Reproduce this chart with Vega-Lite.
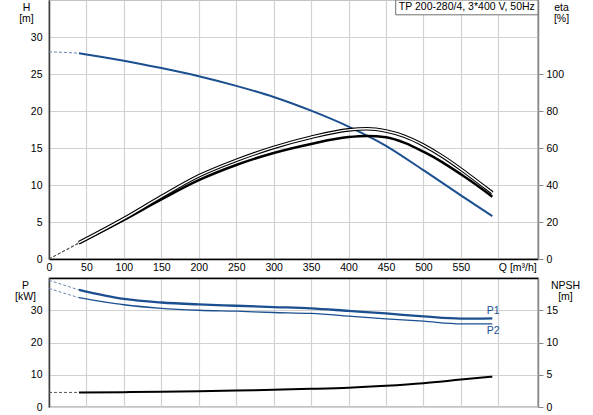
{
  "$schema": "https://vega.github.io/schema/vega-lite/v6.json",
  "padding": {"left": 13, "top": -2, "right": 5, "bottom": 0},
  "spacing": 2,
  "config": {
    "font": "Liberation Sans",
    "view": {"stroke": "#b0b0b0", "strokeWidth": 1.5},
    "axis": {
      "labelFontSize": 10.5, "labelColor": "#000", "titleFontSize": 10.5, "titleFontWeight": "normal", "titleColor": "#000",
      "gridColor": "#d2d2d2", "gridWidth": 1.2, "titleLineHeight": 11.5, "labelOverlap": false
    }
  },
  "datasets": {
    "head": [
      {"Q": 0, "H": 28.0, "part": "ext"}, {"Q": 20, "H": 27.92, "part": "ext"}, {"Q": 40, "H": 27.8, "part": "ext"},
      {"Q": 40, "H": 27.8, "part": "main"}, {"Q": 50, "H": 27.65, "part": "main"}, {"Q": 100, "H": 26.8, "part": "main"},
      {"Q": 150, "H": 25.8, "part": "main"}, {"Q": 200, "H": 24.7, "part": "main"}, {"Q": 250, "H": 23.4, "part": "main"},
      {"Q": 300, "H": 21.9, "part": "main"}, {"Q": 350, "H": 20.05, "part": "main"}, {"Q": 400, "H": 17.9, "part": "main"},
      {"Q": 450, "H": 15.3, "part": "main"}, {"Q": 500, "H": 12.0, "part": "main"}, {"Q": 550, "H": 8.6, "part": "main"},
      {"Q": 592, "H": 5.8, "part": "main"}
    ],
    "eta": [
      {"Q": 0, "eta": 0, "curve": "A", "part": "ext"}, {"Q": 40, "eta": 8.5, "curve": "A", "part": "ext"},
      {"Q": 40, "eta": 8.5, "curve": "A", "part": "main"}, {"Q": 100, "eta": 21.1, "curve": "A", "part": "main"},
      {"Q": 150, "eta": 32.2, "curve": "A", "part": "main"}, {"Q": 200, "eta": 42.6, "curve": "A", "part": "main"},
      {"Q": 250, "eta": 50.8, "curve": "A", "part": "main"}, {"Q": 300, "eta": 57.3, "curve": "A", "part": "main"},
      {"Q": 350, "eta": 62.2, "curve": "A", "part": "main"}, {"Q": 400, "eta": 65.9, "curve": "A", "part": "main"},
      {"Q": 425, "eta": 66.5, "curve": "A", "part": "main"}, {"Q": 450, "eta": 65.8, "curve": "A", "part": "main"},
      {"Q": 475, "eta": 62.8, "curve": "A", "part": "main"}, {"Q": 500, "eta": 58.0, "curve": "A", "part": "main"},
      {"Q": 525, "eta": 52.4, "curve": "A", "part": "main"}, {"Q": 550, "eta": 45.8, "curve": "A", "part": "main"},
      {"Q": 575, "eta": 38.8, "curve": "A", "part": "main"}, {"Q": 592, "eta": 33.7, "curve": "A", "part": "main"},
      {"Q": 0, "eta": 0, "curve": "B", "part": "ext"}, {"Q": 40, "eta": 8.8, "curve": "B", "part": "ext"},
      {"Q": 40, "eta": 8.8, "curve": "B", "part": "main"}, {"Q": 100, "eta": 21.8, "curve": "B", "part": "main"},
      {"Q": 150, "eta": 33.7, "curve": "B", "part": "main"}, {"Q": 200, "eta": 44.9, "curve": "B", "part": "main"},
      {"Q": 250, "eta": 53.3, "curve": "B", "part": "main"}, {"Q": 300, "eta": 60.3, "curve": "B", "part": "main"},
      {"Q": 350, "eta": 65.8, "curve": "B", "part": "main"}, {"Q": 400, "eta": 69.8, "curve": "B", "part": "main"},
      {"Q": 425, "eta": 70.4, "curve": "B", "part": "main"}, {"Q": 450, "eta": 69.2, "curve": "B", "part": "main"},
      {"Q": 475, "eta": 66.3, "curve": "B", "part": "main"}, {"Q": 500, "eta": 61.6, "curve": "B", "part": "main"},
      {"Q": 525, "eta": 55.6, "curve": "B", "part": "main"}, {"Q": 550, "eta": 48.6, "curve": "B", "part": "main"},
      {"Q": 575, "eta": 41.0, "curve": "B", "part": "main"}, {"Q": 592, "eta": 35.8, "curve": "B", "part": "main"}
    ],
    "power": [
      {"Q": 0, "P": 39.3, "curve": "P1", "part": "ext"}, {"Q": 20, "P": 37.8, "curve": "P1", "part": "ext"}, {"Q": 40, "P": 36.3, "curve": "P1", "part": "ext"},
      {"Q": 40, "P": 36.3, "curve": "P1", "part": "main"}, {"Q": 100, "P": 33.5, "curve": "P1", "part": "main"},
      {"Q": 150, "P": 32.4, "curve": "P1", "part": "main"}, {"Q": 200, "P": 31.8, "curve": "P1", "part": "main"},
      {"Q": 250, "P": 31.4, "curve": "P1", "part": "main"}, {"Q": 300, "P": 31.0, "curve": "P1", "part": "main"},
      {"Q": 350, "P": 30.6, "curve": "P1", "part": "main"}, {"Q": 400, "P": 29.8, "curve": "P1", "part": "main"},
      {"Q": 450, "P": 29.0, "curve": "P1", "part": "main"}, {"Q": 500, "P": 28.1, "curve": "P1", "part": "main"},
      {"Q": 550, "P": 27.4, "curve": "P1", "part": "main"}, {"Q": 592, "P": 27.5, "curve": "P1", "part": "main"},
      {"Q": 0, "P": 36.8, "curve": "P2", "part": "ext"}, {"Q": 20, "P": 35.3, "curve": "P2", "part": "ext"}, {"Q": 40, "P": 33.9, "curve": "P2", "part": "ext"},
      {"Q": 40, "P": 33.9, "curve": "P2", "part": "main"}, {"Q": 100, "P": 31.7, "curve": "P2", "part": "main"},
      {"Q": 150, "P": 30.6, "curve": "P2", "part": "main"}, {"Q": 200, "P": 30.0, "curve": "P2", "part": "main"},
      {"Q": 250, "P": 29.7, "curve": "P2", "part": "main"}, {"Q": 300, "P": 29.3, "curve": "P2", "part": "main"},
      {"Q": 350, "P": 29.0, "curve": "P2", "part": "main"}, {"Q": 400, "P": 28.2, "curve": "P2", "part": "main"},
      {"Q": 450, "P": 27.3, "curve": "P2", "part": "main"}, {"Q": 500, "P": 26.6, "curve": "P2", "part": "main"},
      {"Q": 550, "P": 25.8, "curve": "P2", "part": "main"}, {"Q": 592, "P": 25.8, "curve": "P2", "part": "main"}
    ],
    "npsh": [
      {"Q": 0, "NPSH": 2.26, "part": "ext"}, {"Q": 40, "NPSH": 2.26, "part": "ext"},
      {"Q": 40, "NPSH": 2.26, "part": "main"}, {"Q": 100, "NPSH": 2.3, "part": "main"},
      {"Q": 150, "NPSH": 2.35, "part": "main"}, {"Q": 200, "NPSH": 2.45, "part": "main"},
      {"Q": 250, "NPSH": 2.55, "part": "main"}, {"Q": 300, "NPSH": 2.68, "part": "main"},
      {"Q": 350, "NPSH": 2.82, "part": "main"}, {"Q": 400, "NPSH": 3.0, "part": "main"},
      {"Q": 450, "NPSH": 3.3, "part": "main"}, {"Q": 500, "NPSH": 3.7, "part": "main"},
      {"Q": 550, "NPSH": 4.25, "part": "main"}, {"Q": 592, "NPSH": 4.7, "part": "main"}
    ],
    "plabels": [
      {"Q": 593, "P": 29.7, "label": "P1"},
      {"Q": 593, "P": 23.7, "label": "P2"}
    ],
    "box": [
      {"label": "TP 200-280/4, 3*400 V, 50Hz"}
    ]
  },
  "vconcat": [
    {
      "width": 489,
      "height": 259,
      "layer": [
        {
          "encoding": {
            "x": {"field": "Q", "type": "quantitative", "scale": {"domain": [0, 653], "nice": false},
              "axis": {
                "orient": "bottom", "values": [0, 50, 100, 150, 200, 250, 300, 350, 400, 450, 500, 550, 600],
                "labelExpr": "datum.value == 600 ? 'Q [m³/h]' : datum.label",
                "labelAlign": {"condition": {"test": "datum.value == 600", "value": "left"}, "value": "center"},
                "grid": true, "tickSize": 0, "labelPadding": 3, "domainColor": "#000", "domainWidth": 1.5, "title": null, "labelFlush": false
              }
            },
            "y": {"field": "H", "type": "quantitative", "scale": {"domain": [0, 35], "nice": false},
              "axis": {
                "values": [0, 5, 10, 15, 20, 25, 30],
                "grid": true, "tickSize": 0, "labelPadding": 7, "domainColor": "#404040", "domainWidth": 1.5,
                "title": ["H", "[m]"], "titleAngle": 0, "titleAlign": "center", "titleBaseline": "top", "titleX": -23, "titleY": 2
              }
            }
          },
          "layer": [
            {
              "data": {"name": "head"},
              "transform": [{"filter": "datum.part == 'ext'"}],
              "mark": {"type": "line", "color": "#6a85b0", "strokeWidth": 1, "strokeDash": [3, 2], "interpolate": "monotone"}
            },
            {
              "data": {"name": "head"},
              "transform": [{"filter": "datum.part == 'main'"}],
              "mark": {"type": "line", "color": "#1b4f8f", "strokeWidth": 2, "interpolate": "monotone"}
            }
          ]
        },
        {
          "data": {"name": "eta"},
          "encoding": {
            "x": {"field": "Q", "type": "quantitative", "scale": {"domain": [0, 653], "nice": false},
              "axis": {
                "orient": "bottom", "values": [0, 50, 100, 150, 200, 250, 300, 350, 400, 450, 500, 550, 600],
                "labelExpr": "datum.value == 600 ? 'Q [m³/h]' : datum.label",
                "labelAlign": {"condition": {"test": "datum.value == 600", "value": "left"}, "value": "center"},
                "grid": true, "tickSize": 0, "labelPadding": 3, "domainColor": "#000", "domainWidth": 1.5, "title": null, "labelFlush": false
              }
            },
            "y": {"field": "eta", "type": "quantitative", "scale": {"domain": [0, 140], "nice": false},
              "axis": {
                "orient": "right", "values": [0, 20, 40, 60, 80, 100], "grid": false, "tickSize": 5,
                "tickColor": "#888888", "domainColor": "#888888", "domainWidth": 1.5, "labelPadding": 3,
                "title": ["eta", "[%]"], "titleAngle": 0, "titleAlign": "center", "titleBaseline": "top", "titleX": 23, "titleY": 2
              }
            }
          },
          "layer": [
            {
              "transform": [{"filter": "datum.part == 'ext'"}],
              "mark": {"type": "line", "color": "#555555", "strokeWidth": 1, "strokeDash": [3, 2]},
              "encoding": {"detail": {"field": "curve"}}
            },
            {
              "transform": [{"filter": "datum.part == 'main' && datum.curve == 'A'"}],
              "mark": {"type": "line", "color": "#000000", "strokeWidth": 2.5, "interpolate": "monotone"}
            },
            {
              "transform": [{"filter": "datum.part == 'main' && datum.curve == 'B'"}],
              "mark": {"type": "line", "color": "#000000", "strokeWidth": 3.6, "interpolate": "monotone"}
            },
            {
              "transform": [{"filter": "datum.part == 'main' && datum.curve == 'B'"}],
              "mark": {"type": "line", "color": "#ffffff", "strokeWidth": 1.4, "interpolate": "monotone"}
            }
          ]
        },
        {
          "data": {"name": "box"},
          "layer": [
            {
              "mark": {"type": "rect", "fill": "#ffffff", "stroke": "#707070", "strokeWidth": 1},
              "encoding": {
                "x": {"datum": 463, "type": "quantitative", "scale": {"domain": [0, 653], "nice": false},
                  "axis": {
                    "orient": "bottom", "values": [0, 50, 100, 150, 200, 250, 300, 350, 400, 450, 500, 550, 600],
                    "labelExpr": "datum.value == 600 ? 'Q [m³/h]' : datum.label",
                    "labelAlign": {"condition": {"test": "datum.value == 600", "value": "left"}, "value": "center"},
                    "grid": true, "tickSize": 0, "labelPadding": 3, "domainColor": "#000", "domainWidth": 1.5, "title": null, "labelFlush": false
                  }
                },
                "x2": {"datum": 653},
                "y": {"datum": 33, "type": "quantitative", "scale": {"domain": [0, 35], "nice": false}, "axis": null},
                "y2": {"datum": 35}
              }
            },
            {
              "mark": {"type": "text", "fontSize": 10.5, "color": "#000", "align": "center", "baseline": "middle"},
              "encoding": {
                "x": {"datum": 558, "type": "quantitative", "scale": {"domain": [0, 653], "nice": false},
                  "axis": {
                    "orient": "bottom", "values": [0, 50, 100, 150, 200, 250, 300, 350, 400, 450, 500, 550, 600],
                    "labelExpr": "datum.value == 600 ? 'Q [m³/h]' : datum.label",
                    "labelAlign": {"condition": {"test": "datum.value == 600", "value": "left"}, "value": "center"},
                    "grid": true, "tickSize": 0, "labelPadding": 3, "domainColor": "#000", "domainWidth": 1.5, "title": null, "labelFlush": false
                  }
                },
                "y": {"datum": 34, "type": "quantitative", "scale": {"domain": [0, 35], "nice": false}, "axis": null},
                "text": {"field": "label"}
              }
            }
          ]
        }
      ],
      "resolve": {"scale": {"y": "independent"}}
    },
    {
      "width": 489,
      "height": 129,
      "layer": [
        {
          "encoding": {
            "x": {"field": "Q", "type": "quantitative", "scale": {"domain": [0, 653], "nice": false},
              "axis": {
                "orient": "top", "values": [0, 50, 100, 150, 200, 250, 300, 350, 400, 450, 500, 550, 600],
                "labels": false, "grid": true, "tickSize": 0, "domainColor": "#000", "domainWidth": 1.5, "title": null
              }
            },
            "y": {"field": "P", "type": "quantitative", "scale": {"domain": [0, 40], "nice": false},
              "axis": {
                "values": [0, 10, 20, 30],
                "grid": true, "tickSize": 0, "labelPadding": 7, "domainColor": "#404040", "domainWidth": 1.5,
                "title": ["P", "[kW]"], "titleAngle": 0, "titleAlign": "center", "titleBaseline": "top", "titleX": -24, "titleY": 2
              }
            }
          },
          "layer": [
            {
              "data": {"name": "power"},
              "transform": [{"filter": "datum.part == 'ext'"}],
              "mark": {"type": "line", "color": "#6a85b0", "strokeWidth": 1, "strokeDash": [3, 2], "interpolate": "monotone"},
              "encoding": {"detail": {"field": "curve"}}
            },
            {
              "data": {"name": "power"},
              "transform": [{"filter": "datum.part == 'main'"}],
              "mark": {"type": "line", "color": "#1b4f8f", "interpolate": "monotone"},
              "encoding": {
                "detail": {"field": "curve"},
                "strokeWidth": {"field": "curve", "type": "nominal", "scale": {"domain": ["P1", "P2"], "range": [2.3, 1.3]}, "legend": null}
              }
            },
            {
              "data": {"name": "plabels"},
              "mark": {"type": "text", "fontSize": 10.5, "color": "#1b4f8f", "align": "center", "baseline": "middle"},
              "encoding": {"text": {"field": "label"}}
            }
          ]
        },
        {
          "data": {"name": "npsh"},
          "encoding": {
            "x": {"field": "Q", "type": "quantitative", "scale": {"domain": [0, 653], "nice": false},
              "axis": {
                "orient": "top", "values": [0, 50, 100, 150, 200, 250, 300, 350, 400, 450, 500, 550, 600],
                "labels": false, "grid": true, "tickSize": 0, "domainColor": "#000", "domainWidth": 1.5, "title": null
              }
            },
            "y": {"field": "NPSH", "type": "quantitative", "scale": {"domain": [0, 20], "nice": false},
              "axis": {
                "orient": "right", "values": [0, 5, 10, 15], "grid": false, "tickSize": 5,
                "tickColor": "#888888", "domainColor": "#888888", "domainWidth": 1.5, "labelPadding": 3,
                "title": ["NPSH", "[m]"], "titleAngle": 0, "titleAlign": "center", "titleBaseline": "top", "titleX": 27, "titleY": 2
              }
            }
          },
          "layer": [
            {
              "transform": [{"filter": "datum.part == 'ext'"}],
              "mark": {"type": "line", "color": "#555555", "strokeWidth": 1, "strokeDash": [3, 2]}
            },
            {
              "transform": [{"filter": "datum.part == 'main'"}],
              "mark": {"type": "line", "color": "#000000", "strokeWidth": 2, "interpolate": "monotone"}
            }
          ]
        }
      ],
      "resolve": {"scale": {"y": "independent"}}
    }
  ]
}
